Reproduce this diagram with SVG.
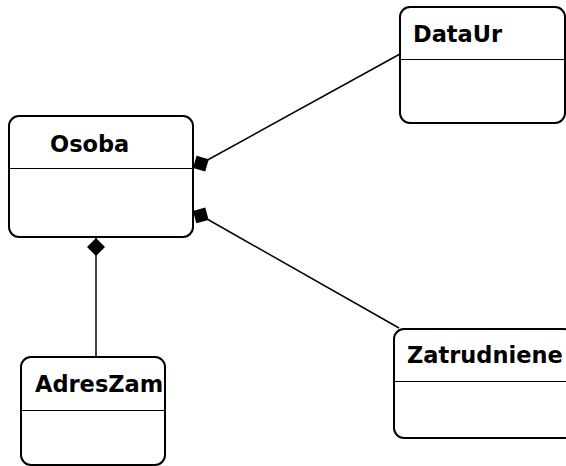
<svg xmlns="http://www.w3.org/2000/svg" width="566" height="466" viewBox="0 0 566 466">
<style>
.box{fill:#fff;stroke:#000;stroke-width:2}
.div{stroke:#000;stroke-width:1}
.t{font-family:"DejaVu Sans",sans-serif;font-weight:bold;font-size:22.5px;fill:#000}
.c{stroke:#000;stroke-width:1.5;fill:none}
</style>
<defs>
<marker id="dia" markerUnits="userSpaceOnUse" markerWidth="24" markerHeight="24" viewBox="-20 -12 22 24" refX="0" refY="0" orient="auto">
<path d="M0,0 L-9,-9 L-18,0 L-9,9 Z" fill="#000"/>
</marker>
</defs>
<g id="connectors">
<line class="c" x1="96" y1="357" x2="96" y2="238" marker-end="url(#dia)"/>
<line class="c" x1="400" y1="54" x2="193" y2="168" marker-end="url(#dia)"/>
<line class="c" x1="399" y1="328" x2="193" y2="211" marker-end="url(#dia)"/>
</g>
<g id="Osoba">
<rect class="box" x="9" y="116" width="184" height="121" rx="10"/>
<line class="div" x1="9" y1="168.5" x2="193" y2="168.5"/>
<text class="t" x="50" y="151.5">Osoba</text>
</g>
<g id="DataUr">
<rect class="box" x="400" y="7" width="165" height="116" rx="10"/>
<line class="div" x1="400" y1="59.5" x2="565" y2="59.5"/>
<text class="t" x="413" y="42">DataUr</text>
</g>
<g id="Zatrudniene">
<rect class="box" x="394" y="329" width="180" height="109" rx="10"/>
<line class="div" x1="394" y1="381.5" x2="566" y2="381.5"/>
<text class="t" x="407" y="363">Zatrudniene</text>
</g>
<g id="AdresZam">
<rect class="box" x="21" y="357" width="144" height="108" rx="10"/>
<line class="div" x1="21" y1="410.5" x2="165" y2="410.5"/>
<text class="t" x="35" y="392">AdresZam</text>
</g>
</svg>
